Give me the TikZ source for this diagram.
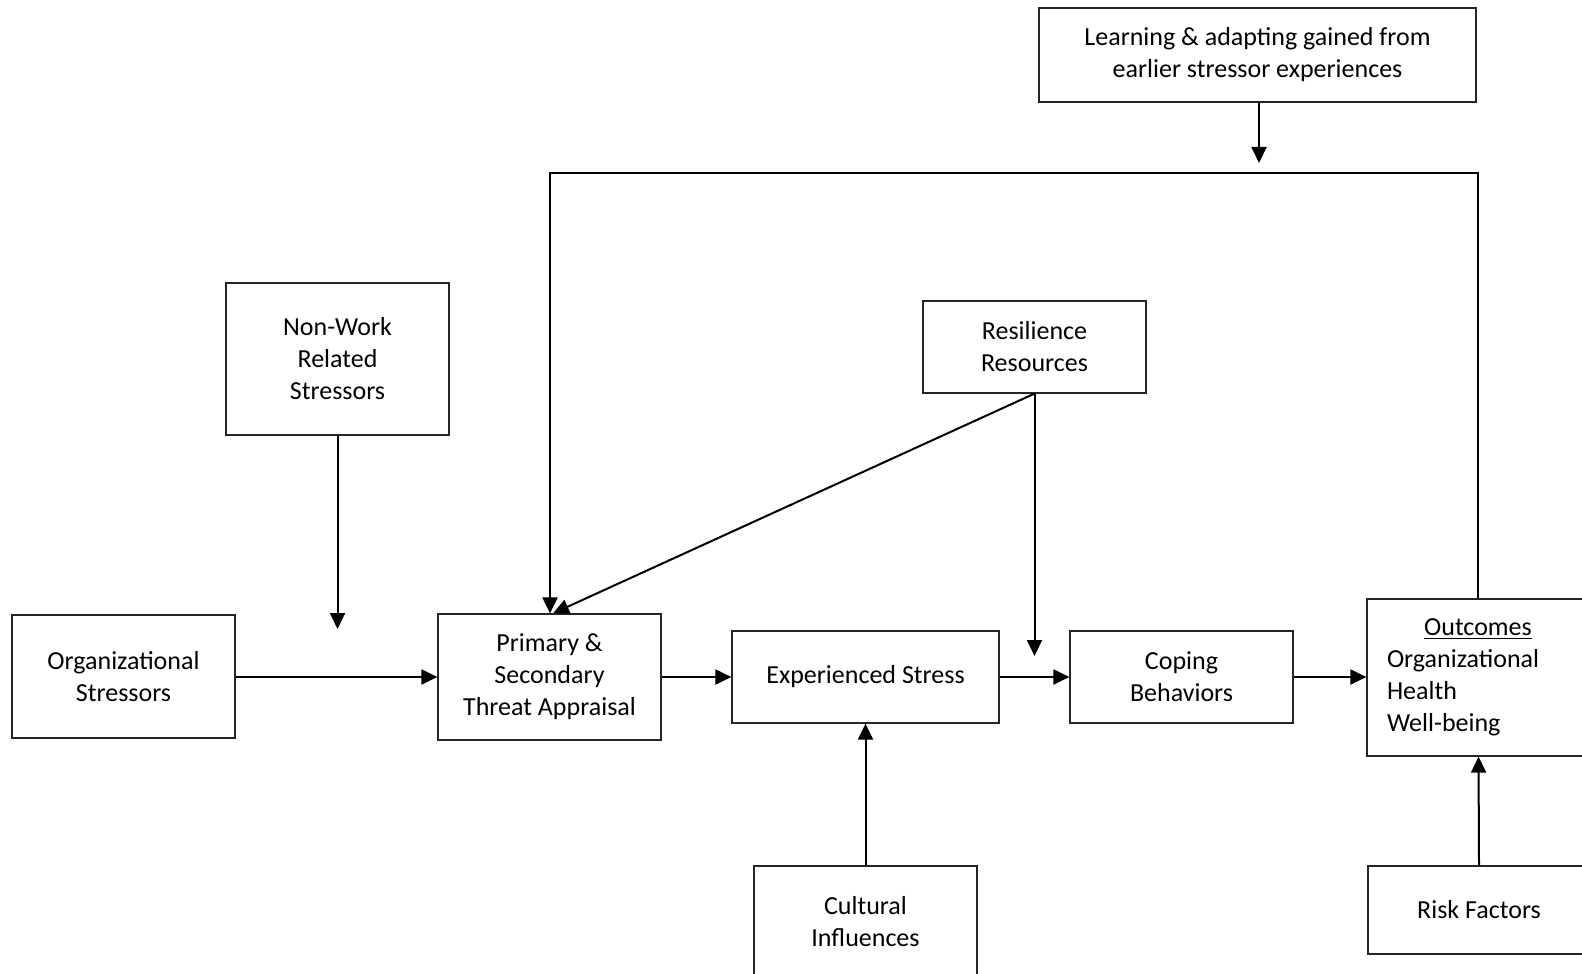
\documentclass[tikz,border=0pt]{standalone}
\usepackage{fontspec}
\setmainfont{Carlito}
\usetikzlibrary{arrows.meta}
\begin{document}
\begin{tikzpicture}[x=0.5pt,y=-0.5pt,
  box/.style={draw=black!85, line width=0.6pt, inner sep=0pt, align=center,
    font=\fontsize{13pt}{16pt}\selectfont},
  flow/.style={line width=1pt, -{Triangle[length=8pt,width=7.5pt]}},
  plain/.style={line width=1pt}]
\clip (0,0) rectangle (1582,973);
% boxes (width/height given in pixel units of 0.5pt)
\node[box, minimum width=218.5pt, minimum height=47pt]  (learn)   at (1257.5,55)  {Learning \& adapting gained from\\earlier stressor experiences};
\node[box, minimum width=111.5pt, minimum height=76pt]  (nonwork) at (337.5,359)  {Non-Work\\Related\\Stressors};
\node[box, minimum width=111.5pt, minimum height=46pt]  (resil)   at (1034.5,347) {Resilience\\Resources};
\node[box, minimum width=111.5pt, minimum height=61.5pt] (org)    at (123.5,676.5) {Organizational\\Stressors};
\node[box, minimum width=111.5pt, minimum height=63pt]  (appr)    at (549.5,677)  {Primary \&\\Secondary\\Threat Appraisal};
\node[box, minimum width=133.5pt, minimum height=46pt]  (exp)     at (865.5,677)  {Experienced Stress};
\node[box, minimum width=111.5pt, minimum height=46pt]  (coping)  at (1181.5,677) {Coping\\Behaviors};
\node[box, minimum width=111pt, minimum height=78.5pt]  (outc)    at (1478,677.5) {\begin{minipage}{91pt}\fontsize{13pt}{16pt}\selectfont
  \makebox[\linewidth]{\underline{Outcomes}}\\Organizational\\Health\\Well-being\end{minipage}};
\node[box, minimum width=111.5pt, minimum height=56pt]  (cult)    at (865.5,922)  {Cultural\\Influences};
\node[box, minimum width=111pt, minimum height=44pt]    (risk)    at (1479,910)   {Risk Factors};

% free arrow ends
\coordinate (nwend) at (337.5,629);
\coordinate (rsend) at (1034.5,656);
\coordinate (lnend) at (1259,163);
\coordinate (fbL) at (550,173);
\coordinate (fbR) at (1478,173);

% main chain
\draw[flow] (org.east |- 0,677) -- (appr.west |- 0,677);
\draw[flow] (appr.east |- 0,677) -- (exp.west |- 0,677);
\draw[flow] (exp.east |- 0,677) -- (coping.west |- 0,677);
\draw[flow] (coping.east |- 0,677) -- (outc.west |- 0,677);

% influences
\draw[flow] (nonwork.south) -- (nwend);
\draw[flow] (resil.south) -- (rsend);
\draw[flow] (resil.south) -- (appr.north -| 553,0);
\draw[flow] (cult.north) -- (exp.south);
\draw[flow] (risk.north) -- (outc.south -| 1478.5,0);

% feedback loop
\draw[flow] (outc.north) -- (fbR) -- (fbL) -- (appr.north -| fbL);
\draw[flow] (learn.south -| lnend) -- (lnend);
\end{tikzpicture}
\end{document}
